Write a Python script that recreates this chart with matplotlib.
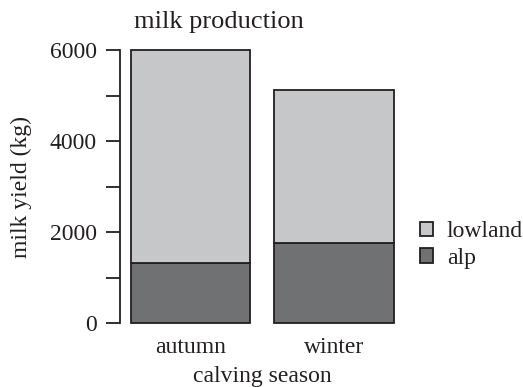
import matplotlib
matplotlib.use("Agg")
import matplotlib.pyplot as plt
from matplotlib.patches import Patch

# milk yield per calving season, stacked alp + lowland
seasons = ["autumn", "winter"]
alp = [1320, 1750]
lowland = [4680, 3380]

yticks = [0, 2000, 4000, 6000]
yminor = [1000, 3000, 5000]

light = "#c6c7c9"
dark = "#707173"
edge = "#231f20"

plt.rcParams["font.family"] = ["Liberation Serif", "DejaVu Serif"]
plt.rcParams["font.size"] = 17

fig = plt.figure(figsize=(5.23, 3.87), dpi=100)
ax = fig.add_axes([120 / 523, 64 / 387, 285 / 523, 273 / 387])

pos = [0.7, 1.9]
ax.bar(pos, alp, width=1.0, color=dark, edgecolor=edge, linewidth=1.3, clip_on=False)
ax.bar(pos, lowland, width=1.0, bottom=alp, color=light, edgecolor=edge,
       linewidth=1.3, clip_on=False)

ax.set_xlim(0.11, 0.11 + 285 / 119.6)
ax.set_ylim(0, 6000)

for side in ("top", "right", "bottom"):
    ax.spines[side].set_visible(False)
ax.spines["left"].set_linewidth(1.3)
ax.spines["left"].set_color(edge)

ax.set_yticks(yticks)
ax.set_yticks(yminor, minor=True)
ax.tick_params(axis="y", which="both", length=10, width=1.3, color=edge,
               labelcolor=edge, pad=6.5)
ax.set_xticks(pos)
ax.set_xticklabels(seasons, color=edge)
ax.tick_params(axis="x", length=0, pad=10)

ax.set_ylabel("milk yield (kg)", color=edge, labelpad=13)
ax.set_xlabel("calving season", color=edge, labelpad=5.8)
fig.text(134 / 523, 1 - 28 / 387, "milk production", fontsize=19, color=edge,
         ha="left", va="baseline")

handles = [Patch(facecolor=light, edgecolor=edge, linewidth=1.3, label="lowland"),
           Patch(facecolor=dark, edgecolor=edge, linewidth=1.3, label="alp")]
fig.legend(handles=handles, loc="center left", bbox_to_anchor=(408 / 523, 1 - 245 / 387),
           frameon=False, handlelength=0.55, handleheight=0.55, handletextpad=0.6,
           labelspacing=0.25, borderpad=0, labelcolor=edge)

fig.savefig("out.png", dpi=100)
